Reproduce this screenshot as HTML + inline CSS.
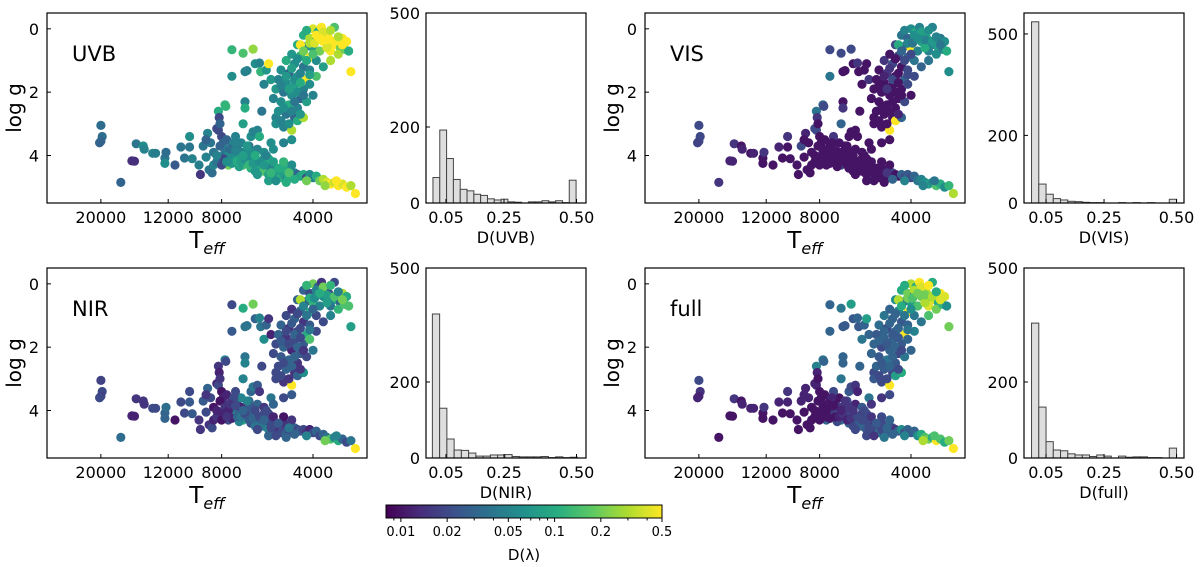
<!DOCTYPE html>
<html><head><meta charset="utf-8">
<style>
html,body{margin:0;padding:0;background:#fff;}
svg{display:block;font-family:"DejaVu Sans","Liberation Sans",sans-serif;}
</style></head>
<body>
<svg id="fig" width="1200" height="567" viewBox="0 0 1200 567" xmlns="http://www.w3.org/2000/svg">
<defs>
<linearGradient id="viridis" x1="0" x2="1" y1="0" y2="0">
<stop offset="0" stop-color="#440154"/><stop offset="0.125" stop-color="#472d7b"/><stop offset="0.25" stop-color="#3b528b"/><stop offset="0.375" stop-color="#2c728e"/><stop offset="0.5" stop-color="#21918c"/><stop offset="0.625" stop-color="#28ae80"/><stop offset="0.75" stop-color="#5ec962"/><stop offset="0.875" stop-color="#addc30"/><stop offset="1" stop-color="#fde725"/>
</linearGradient>
</defs>
</svg>
<script>
// ---- data ----
const teff = [20000,19800,20000,20200,17200,15800,15500,15300,14500,14400,
13500,13200,12300,12200,12300,11400,10900,10600,10200,10000,
10200,9500,9400,9200,9000,8800,8600,8500,8300,8200,
8200,8150,8100,7800,7750,8000,7900,7800,7700,7600,
7500,7400,7300,7200,7100,7000,6900,6800,6700,6600,
8300,8700,7600,7400,7000,6500,6400,6300,6200,6100,
6000,5900,5800,5700,5600,5500,5400,5300,5200,5100,
5000,4900,4800,4700,4600,4500,4400,4300,4200,4100,
4000,3900,3800,3700,3600,3500,3400,3300,3200,3100,
3000,2900,5600,5300,4900,3650,3350,6200,5800,5000,
7400,6800,6300,7400,6700,6600,6200,6000,5950,5800,
5700,5600,6700,6700,6800,6400,6300,6100,6000,5500,
5300,5500,5900,5300,5000,4700,5200,4900,4600,5400,
5100,4800,4500,5300,5000,4700,4400,4200,5200,4900,
4600,4300,5100,4800,4500,4200,4900,4600,4300,4100,
4700,4400,4100,3900,4500,4200,4000,3800,4300,4100,
3900,3700,4000,3850,3750,3650,3550,3450,3350,3250,
3500,3300,3200,3400,3600,3150,3100,3050,3000,3500,
3700,4100,4000,4500,4300,4700,5000,4200,4400,3900,
6900,6500,5800,5600,5400,7200,5000,4700,6100,8900,
5000,4700,4400,5100,4800,4500,4300,4900,4600,4400,
4700,4200,4500,4300,4000,4100,3900,3700,3600,3500,
5100,4800,4600,4400,4100,3950,3800,3400,3300,3200,
8100,7800,7600,7300,7100,6900,6700,6500,6300,6000,
7900,7500,7200,6800,6400,6200,5800,5500,5200,4800,
9000,8500,8300,8000,7700,6600,5700,5400,4600,4200];
const logg = [3.05,3.4,3.55,3.6,4.85,4.17,4.18,3.63,3.7,3.8,
3.93,3.93,4.08,3.9,4.25,4.3,3.73,4.08,3.73,4.1,
3.4,4.3,4.6,3.7,4.05,4.45,4.55,4.3,3.15,3.2,
2.6,2.8,3.0,2.4,2.45,3.4,3.6,3.8,3.5,3.9,
4.1,3.7,4.0,4.2,3.8,4.1,3.6,4.3,3.9,4.2,
4.2,3.6,4.3,4.25,4.35,4.0,4.4,4.1,4.3,3.8,
4.4,4.2,4.5,4.3,4.6,4.4,4.7,4.5,4.65,4.7,
4.6,4.75,4.7,4.5,4.55,4.6,4.65,4.6,4.7,4.6,
4.7,4.65,4.8,4.75,4.85,4.9,4.85,4.95,4.9,5.0,
4.95,5.2,4.8,4.8,4.85,4.95,4.8,4.5,4.1,4.4,
0.66,0.77,0.64,1.5,1.35,1.32,1.1,1.08,1.35,1.75,
1.3,1.1,2.3,2.5,3.0,3.4,3.25,3.2,3.4,1.6,
2.8,3.6,2.6,3.0,3.1,3.2,2.6,2.7,2.8,2.2,
2.3,2.4,2.5,1.9,2.0,2.1,2.2,2.3,1.6,1.7,
1.8,1.9,1.3,1.4,1.5,1.6,1.0,1.1,1.2,1.3,
0.8,0.85,0.9,1.0,0.5,0.55,0.6,0.7,0.2,0.3,
0.35,0.4,0.0,0.1,-0.05,0.15,0.3,0.45,0.5,0.6,
0.7,0.8,0.3,-0.05,0.6,0.65,0.4,0.7,1.35,1.0,
1.2,1.75,2.1,2.9,2.8,3.5,3.6,0.05,0.5,1.5,
3.9,3.7,3.9,4.1,4.2,3.4,4.2,4.3,4.6,3.3,
2.5,2.6,2.7,1.8,1.9,2.0,2.1,1.5,1.6,1.4,
1.25,1.0,0.95,0.7,0.8,0.45,0.2,0.1,0.35,0.05,
2.9,3.0,2.3,1.7,1.45,0.45,0.3,0.4,0.25,0.5,
3.7,3.9,4.0,3.6,4.2,4.2,4.1,4.3,4.25,4.2,
4.1,3.8,3.85,4.0,3.9,4.0,4.3,4.55,4.4,4.55,
3.5,3.9,4.0,4.3,4.2,3.7,4.0,3.8,4.75,4.8];
const dUVB = [0.035,0.035,0.03,0.03,0.03,0.014,0.014,0.04,0.06,0.05,
0.05,0.045,0.04,0.035,0.06,0.025,0.04,0.04,0.04,0.05,
0.06,0.045,0.015,0.04,0.05,0.04,0.035,0.05,0.02,0.02,
0.1,0.02,0.03,0.12,0.12,0.02,0.03,0.05,0.03,0.06,
0.05,0.035,0.06,0.1,0.04,0.08,0.05,0.15,0.06,0.12,
0.04,0.04,0.2,0.07,0.08,0.06,0.1,0.06,0.08,0.05,
0.1,0.06,0.15,0.07,0.08,0.05,0.1,0.06,0.07,0.12,
0.08,0.06,0.1,0.12,0.05,0.03,0.08,0.1,0.02,0.06,
0.05,0.1,0.2,0.3,0.4,0.5,0.35,0.5,0.4,0.5,
0.3,0.5,0.08,0.06,0.1,0.25,0.5,0.07,0.06,0.1,
0.12,0.15,0.25,0.06,0.05,0.05,0.06,0.05,0.12,0.05,
0.07,0.5,0.05,0.1,0.08,0.06,0.05,0.05,0.1,0.07,
0.05,0.06,0.04,0.06,0.05,0.3,0.06,0.04,0.03,0.05,
0.06,0.1,0.05,0.07,0.04,0.06,0.03,0.08,0.05,0.06,
0.08,0.05,0.06,0.03,0.07,0.5,0.1,0.06,0.04,0.05,
0.07,0.12,0.5,0.06,0.1,0.05,0.08,0.2,0.1,0.3,
0.12,0.5,0.4,0.1,0.5,0.15,0.5,0.4,0.5,0.2,
0.5,0.3,0.5,0.15,0.4,0.2,0.5,0.1,0.5,0.3,
0.08,0.06,0.05,0.1,0.3,0.06,0.05,0.1,0.5,0.15,
0.05,0.04,0.06,0.1,0.08,0.05,0.12,0.06,0.07,0.05,
0.06,0.05,0.07,0.05,0.08,0.06,0.04,0.07,0.06,0.05,
0.08,0.1,0.06,0.2,0.15,0.3,0.5,0.4,0.5,0.3,
0.05,0.06,0.04,0.1,0.08,0.4,0.5,0.5,0.3,0.5,
0.03,0.04,0.06,0.05,0.1,0.08,0.06,0.12,0.07,0.06,
0.02,0.035,0.05,0.08,0.06,0.1,0.07,0.12,0.1,0.15,
0.03,0.04,0.05,0.02,0.06,0.07,0.05,0.06,0.1,0.2];
const dVIS = [0.02,0.02,0.02,0.018,0.015,0.012,0.012,0.015,0.01,0.012,
0.01,0.012,0.01,0.015,0.01,0.01,0.012,0.01,0.01,0.01,
0.015,0.01,0.01,0.02,0.01,0.01,0.01,0.01,0.02,0.02,
0.04,0.015,0.01,0.03,0.02,0.01,0.01,0.01,0.01,0.01,
0.01,0.01,0.01,0.01,0.012,0.01,0.01,0.02,0.01,0.01,
0.01,0.01,0.01,0.01,0.01,0.01,0.01,0.01,0.015,0.01,
0.01,0.01,0.01,0.01,0.01,0.01,0.02,0.01,0.01,0.01,
0.01,0.01,0.01,0.015,0.02,0.01,0.01,0.03,0.02,0.025,
0.02,0.03,0.04,0.05,0.06,0.08,0.06,0.15,0.1,0.06,
0.12,0.3,0.01,0.01,0.01,0.05,0.04,0.01,0.01,0.01,
0.02,0.02,0.02,0.04,0.01,0.01,0.01,0.015,0.01,0.01,
0.01,0.01,0.01,0.015,0.03,0.01,0.01,0.01,0.01,0.015,
0.01,0.01,0.01,0.01,0.01,0.5,0.01,0.01,0.01,0.01,
0.01,0.01,0.01,0.01,0.01,0.01,0.01,0.02,0.01,0.01,
0.01,0.01,0.01,0.015,0.01,0.03,0.015,0.02,0.01,0.02,
0.01,0.02,0.03,0.04,0.02,0.03,0.5,0.05,0.04,0.03,
0.05,0.08,0.06,0.1,0.05,0.06,0.08,0.04,0.06,0.08,
0.05,0.06,0.04,0.05,0.1,0.05,0.06,0.1,0.06,0.04,
0.03,0.02,0.01,0.5,0.03,0.01,0.01,0.05,0.1,0.02,
0.01,0.01,0.01,0.01,0.01,0.015,0.01,0.01,0.01,0.012,
0.01,0.01,0.012,0.01,0.015,0.01,0.01,0.012,0.02,0.01,
0.015,0.02,0.01,0.03,0.02,0.05,0.06,0.08,0.05,0.06,
0.01,0.01,0.01,0.01,0.02,0.04,0.06,0.07,0.05,0.04,
0.01,0.01,0.01,0.01,0.01,0.01,0.01,0.01,0.01,0.01,
0.01,0.01,0.01,0.01,0.01,0.01,0.01,0.01,0.01,0.015,
0.01,0.01,0.01,0.01,0.01,0.01,0.01,0.01,0.03,0.05];
const dNIR = [0.018,0.02,0.018,0.02,0.035,0.012,0.012,0.015,0.015,0.015,
0.02,0.02,0.03,0.035,0.03,0.01,0.02,0.02,0.025,0.025,
0.02,0.015,0.015,0.025,0.02,0.015,0.02,0.012,0.012,0.02,
0.015,0.012,0.015,0.05,0.02,0.01,0.012,0.015,0.012,0.03,
0.02,0.015,0.04,0.05,0.02,0.03,0.05,0.1,0.03,0.06,
0.015,0.02,0.02,0.012,0.05,0.04,0.02,0.03,0.06,0.03,
0.03,0.02,0.04,0.015,0.05,0.02,0.03,0.02,0.015,0.02,
0.02,0.03,0.02,0.015,0.03,0.02,0.025,0.02,0.015,0.012,
0.02,0.03,0.02,0.03,0.04,0.15,0.05,0.1,0.03,0.02,
0.04,0.5,0.03,0.02,0.03,0.2,0.05,0.04,0.02,0.015,
0.02,0.1,0.2,0.025,0.04,0.04,0.03,0.05,0.04,0.06,
0.03,0.015,0.04,0.05,0.05,0.03,0.04,0.025,0.015,0.012,
0.02,0.04,0.02,0.02,0.015,0.5,0.02,0.03,0.015,0.02,
0.025,0.03,0.015,0.02,0.03,0.012,0.025,0.02,0.03,0.015,
0.02,0.025,0.03,0.015,0.02,0.1,0.02,0.03,0.015,0.025,
0.015,0.03,0.1,0.02,0.03,0.02,0.12,0.05,0.03,0.02,
0.03,0.06,0.2,0.03,0.015,0.15,0.02,0.05,0.1,0.03,
0.04,0.12,0.3,0.02,0.08,0.15,0.1,0.15,0.08,0.05,
0.02,0.15,0.04,0.03,0.06,0.025,0.02,0.12,0.3,0.02,
0.012,0.03,0.015,0.02,0.012,0.02,0.01,0.015,0.02,0.03,
0.02,0.03,0.015,0.025,0.02,0.03,0.015,0.02,0.03,0.02,
0.025,0.04,0.02,0.05,0.03,0.1,0.05,0.2,0.08,0.12,
0.02,0.015,0.03,0.02,0.04,0.06,0.1,0.15,0.05,0.2,
0.01,0.015,0.012,0.02,0.03,0.04,0.02,0.025,0.03,0.02,
0.012,0.015,0.02,0.03,0.025,0.02,0.03,0.02,0.025,0.04,
0.015,0.01,0.012,0.01,0.015,0.05,0.02,0.03,0.03,0.05];
const dFull = [0.02,0.015,0.012,0.012,0.01,0.01,0.01,0.015,0.01,0.012,
0.012,0.012,0.01,0.015,0.01,0.01,0.012,0.01,0.012,0.01,
0.015,0.01,0.01,0.012,0.01,0.01,0.01,0.01,0.012,0.012,
0.05,0.012,0.01,0.04,0.03,0.01,0.01,0.01,0.01,0.01,
0.012,0.01,0.015,0.02,0.01,0.02,0.01,0.04,0.012,0.03,
0.01,0.012,0.03,0.01,0.02,0.02,0.03,0.02,0.03,0.012,
0.03,0.015,0.03,0.02,0.025,0.02,0.03,0.015,0.02,0.04,
0.02,0.02,0.025,0.03,0.02,0.015,0.03,0.06,0.02,0.03,
0.025,0.03,0.06,0.1,0.15,0.2,0.1,0.5,0.15,0.1,
0.2,0.5,0.02,0.015,0.04,0.3,0.15,0.02,0.015,0.02,
0.03,0.04,0.08,0.03,0.025,0.025,0.025,0.03,0.025,0.04,
0.03,0.08,0.03,0.03,0.04,0.025,0.02,0.015,0.012,0.03,
0.02,0.04,0.03,0.025,0.02,0.5,0.03,0.025,0.02,0.03,
0.025,0.04,0.025,0.03,0.02,0.03,0.02,0.04,0.025,0.03,
0.03,0.025,0.035,0.02,0.03,0.5,0.04,0.03,0.025,0.03,
0.03,0.05,0.5,0.04,0.06,0.04,0.08,0.15,0.1,0.2,
0.05,0.2,0.3,0.1,0.5,0.08,0.3,0.25,0.4,0.1,
0.4,0.2,0.5,0.1,0.3,0.12,0.4,0.06,0.2,0.15,
0.04,0.03,0.03,0.08,0.1,0.02,0.015,0.1,0.3,0.05,
0.015,0.02,0.025,0.02,0.015,0.02,0.02,0.03,0.02,0.012,
0.025,0.03,0.02,0.03,0.025,0.03,0.02,0.03,0.025,0.03,
0.03,0.04,0.03,0.1,0.06,0.2,0.3,0.4,0.2,0.5,
0.02,0.02,0.03,0.025,0.04,0.15,0.2,0.3,0.1,0.4,
0.01,0.01,0.01,0.012,0.01,0.012,0.015,0.012,0.015,0.02,
0.01,0.01,0.01,0.012,0.015,0.015,0.02,0.02,0.025,0.03,
0.012,0.01,0.01,0.01,0.01,0.015,0.02,0.015,0.03,0.05];
const histUVB = [67,192,117,62,36,32,23,20,11,8,10,3,2,0,3,3,6,3,6,1,60];
const histVIS = [536,56,26,13,9,5,4,2,1,1,0,0,1,0,1,0,1,0,0,11];
const histNIR = [379,131,50,21,20,13,5,5,8,8,9,4,3,3,3,4,1,3,1,2];
const histFull = [355,134,43,21,19,11,8,8,4,8,5,0,5,2,3,3,1,1,0,26];
const binStart = {UVB:0.005, VIS:0.0, NIR:0.003, full:0.0};
const binWidth = {UVB:0.0235, VIS:0.025, NIR:0.025, full:0.025};
const teffTicks = [20000,12000,8000,4000];
const loggTicks = [0,2,4];
const histXTicks = [0.05,0.25,0.50];
const histXTickLabels = ["0.05","0.25","0.50"];
const histYTicks = [0,200,500];
const cbarTicks = [0.01,0.02,0.05,0.1,0.2,0.5];
const cbarTickLabels = ["0.01","0.02","0.05","0.1","0.2","0.5"];
const cbarMinor = [0.009,0.03,0.04,0.06,0.07,0.08,0.09,0.3,0.4];

// ---- helpers ----
const NS="http://www.w3.org/2000/svg";
const svg=document.getElementById('fig');
function el(tag,attrs,parent){const e=document.createElementNS(NS,tag);for(const k in attrs)e.setAttribute(k,attrs[k]);(parent||svg).appendChild(e);return e;}
const VSTOPS=[[68,1,84],[71,45,123],[59,82,139],[44,114,142],[33,145,140],[40,174,128],[94,201,98],[173,220,48],[253,231,37]];
const VMIN=0.008,VMAX=0.5;
function cnorm(d){return Math.max(0,Math.min(1,Math.log(d/VMIN)/Math.log(VMAX/VMIN)));}
function viridis(d){const t=cnorm(d)*8;const i=Math.min(7,Math.floor(t));const f=t-i;const a=VSTOPS[i],b=VSTOPS[i+1];
 return `rgb(${Math.round(a[0]+(b[0]-a[0])*f)},${Math.round(a[1]+(b[1]-a[1])*f)},${Math.round(a[2]+(b[2]-a[2])*f)})`;}

const TMIN_LOG=Math.log10(30100), TMAX_LOG=Math.log10(2655);
function scatterPanel(name,left,top,dvals){
 const W=320,H=190;
 const g=el('g',{});
 
 
 const xs=t=>left+(TMIN_LOG-Math.log10(t))/(TMIN_LOG-TMAX_LOG)*W;
 const ys=v=>top+(v+0.5)/6.0*H;
 const pts=el('g',{},g);
 
 
 for(let i=0;i<teff.length;i++){
  const c=el('circle',{cx:xs(teff[i]).toFixed(1),cy:ys(logg[i]).toFixed(1),r:4.6,fill:viridis(dvals[i])},pts);
  
  
 }
 const fr=el('rect',{x:left,y:top,width:W,height:H,fill:'none',stroke:'#000','stroke-width':1.2},g);
 
 
 teffTicks.forEach(t=>{const x=xs(t);
  el('line',{x1:x,x2:x,y1:top+H,y2:top+H-4,stroke:'#000'},g);
  const tx=el('text',{x:x,y:top+H+20,'font-size':16,'text-anchor':'middle'},g);tx.textContent=t;
  
  });
 loggTicks.forEach(v=>{const y=ys(v);
  el('line',{x1:left,x2:left+4,y1:y,y2:y,stroke:'#000'},g);
  const tx=el('text',{x:left-8,y:y+6,'font-size':16,'text-anchor':'end'},g);tx.textContent=v;
  
  });
 const yl=el('text',{x:0,y:0,'font-size':20,'text-anchor':'middle',transform:`translate(${left-26},${top+95}) rotate(-90)`},g);
 yl.textContent='log g';
 
 
 const xl=el('text',{x:left+160,y:top+H+45,'font-size':23,'text-anchor':'middle'},g);
 
 
 xl.appendChild(document.createTextNode('T'));
 const sub=el('tspan',{'font-size':16,'font-style':'italic',dy:6},xl);sub.textContent='eff';
 const lb=el('text',{x:left+25,y:top+48,'font-size':21},g);lb.textContent=name;
 
 
}
function histPanel(name,left,top,counts,ymax,xmin){
 const W=160,H=190,xmax=xmin+W/290;
 const g=el('g',{});
 
 
 const xs=v=>left+(v-xmin)/(xmax-xmin)*W;
 const ys=c=>top+H-c/ymax*H;
 const s=binStart[name],w=binWidth[name];
 counts.forEach((c,i)=>{const x0=xs(s+i*w),x1=xs(s+(i+1)*w);
  const r=el('rect',{x:x0,y:ys(c),width:x1-x0,height:top+H-ys(c),fill:'#dedede',stroke:'#444','stroke-width':1},g);
  
  });
 const fr=el('rect',{x:left,y:top,width:W,height:H,fill:'none',stroke:'#000','stroke-width':1.2},g);
 
 
 histXTicks.forEach((v,i)=>{const x=xs(v);
  el('line',{x1:x,x2:x,y1:top+H,y2:top+H-4,stroke:'#000'},g);
  const tx=el('text',{x:x,y:top+H+20,'font-size':16,'text-anchor':'middle'},g);tx.textContent=histXTickLabels[i];
  
  });
 histYTicks.forEach(v=>{const y=ys(v);
  el('line',{x1:left,x2:left+4,y1:y,y2:y,stroke:'#000'},g);
  const tx=el('text',{x:left-6,y:y+6,'font-size':16,'text-anchor':'end'},g);tx.textContent=v;
  
  });
 const xl=el('text',{x:left+80,y:top+H+40,'font-size':16,'text-anchor':'middle'},g);xl.textContent='D('+name+')';
 
 
}
scatterPanel('UVB',47,13,dUVB);
histPanel('UVB',426,13,histUVB,500,-0.019);
scatterPanel('VIS',645,13,dVIS);
histPanel('VIS',1024,13,histVIS,562,-0.026);
scatterPanel('NIR',47,268,dNIR);
histPanel('NIR',426,268,histNIR,500,-0.019);
scatterPanel('full',645,268,dFull);
histPanel('full',1024,268,histFull,500,-0.026);

// colorbar
(function(){
 const L=386,R=662,T=505,B=518;
 const g=el('g',{});
 
 
 const r=el('rect',{x:L,y:T,width:R-L,height:B-T,fill:'url(#viridis)',stroke:'#000','stroke-width':1},g);
 
 
 const xs=d=>L+cnorm(d)*(R-L);
 cbarMinor.forEach(d=>{const x=xs(d);el('line',{x1:x,x2:x,y1:B,y2:B+2.5,stroke:'#000'},g);});
 cbarTicks.forEach((d,i)=>{const x=xs(d);
  el('line',{x1:x,x2:x,y1:B,y2:B+4,stroke:'#000'},g);
  const tx=el('text',{x:x,y:B+18,'font-size':13,'text-anchor':'middle'},g);tx.textContent=cbarTickLabels[i];
  
  });
 const lb=el('text',{x:(L+R)/2,y:B+42,'font-size':15,'text-anchor':'middle'},g);lb.textContent='D(λ)';
 
 
})();
</script>
</body></html>
